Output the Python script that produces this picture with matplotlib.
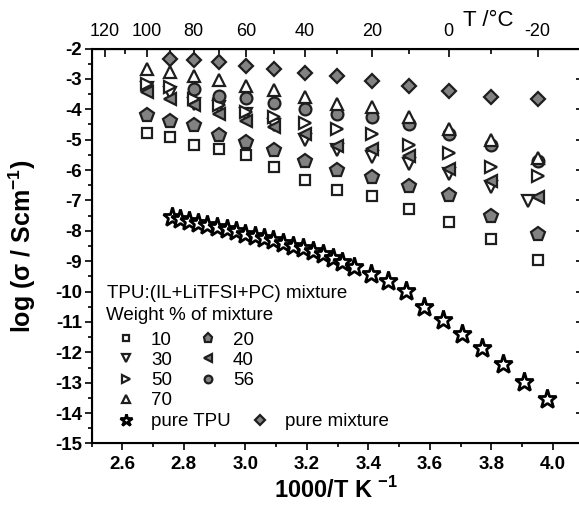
import numpy as np
import matplotlib.pyplot as plt
from matplotlib.ticker import MultipleLocator, FixedLocator

plt.rcParams['font.family'] = ['Liberation Sans', 'DejaVu Sans']
plt.rcParams['mathtext.fontset'] = 'custom'
plt.rcParams['mathtext.rm'] = 'Liberation Sans'
plt.rcParams['mathtext.bf'] = 'Liberation Sans:bold'
plt.rcParams['axes.unicode_minus'] = False

# measuring temperatures (deg C), columns of the plot
temps = [100, 90, 80, 70, 60, 50, 40, 30, 20, 10, 0, -10, -20]
temps_30 = [100, 90, 80, 70, 60, 50, 40, 30, 20, 10, 0, -10, -18]
temps_56 = [80, 70, 60, 50, 40, 30, 20, 10, 0, -10, -20]
temps_mix = [90, 80, 70, 60, 50, 40, 30, 20, 10, 0, -10, -20]

# log conductivity, weight % of mixture in TPU
w10 = [-4.77, -4.92, -5.16, -5.32, -5.52, -5.90, -6.32, -6.65, -6.87, -7.27, -7.71, -8.26, -8.97]
w20 = [-4.20, -4.37, -4.53, -4.84, -5.08, -5.35, -5.71, -5.99, -6.23, -6.54, -6.83, -7.52, -8.09]
w30 = [-3.30, -3.45, -3.81, -3.93, -4.15, -4.53, -5.00, -5.35, -5.57, -5.79, -6.12, -6.56, -7.02]
w40 = [-3.44, -3.65, -3.87, -4.15, -4.37, -4.59, -4.83, -5.22, -5.30, -5.55, -5.95, -6.36, -6.89]
w50 = [-3.16, -3.27, -3.65, -3.87, -4.09, -4.26, -4.46, -4.64, -4.83, -5.19, -5.44, -5.90, -6.21]
w56 = [-3.32, -3.55, -3.62, -3.80, -3.98, -4.17, -4.26, -4.50, -4.80, -5.16, -5.70]
w70 = [-2.67, -2.76, -2.91, -3.05, -3.22, -3.38, -3.60, -3.82, -3.93, -4.26, -4.64, -5.02, -5.59]
pure_mix = [-2.34, -2.39, -2.45, -2.56, -2.67, -2.81, -2.92, -3.07, -3.22, -3.40, -3.58, -3.65]

# pure TPU (1000/T, log sigma)
tpu_x = [2.761, 2.788, 2.818, 2.847, 2.876, 2.909, 2.940, 2.970, 2.999, 3.032,
         3.061, 3.091, 3.122, 3.154, 3.187, 3.219, 3.252, 3.284, 3.313, 3.353,
         3.408, 3.465, 3.523, 3.581, 3.642, 3.706, 3.771, 3.837, 3.907, 3.980]
tpu_y = [-7.55, -7.60, -7.68, -7.73, -7.80, -7.87, -7.95, -8.02, -8.09, -8.16,
         -8.24, -8.31, -8.40, -8.49, -8.58, -8.67, -8.77, -8.88, -9.02, -9.19,
         -9.41, -9.65, -9.99, -10.50, -10.92, -11.38, -11.85, -12.37, -12.97, -13.52]

top_ticks = [120, 100, 80, 60, 40, 20, 0, -20]


def inv_t(t):
    return 1000.0 / (np.asarray(t, dtype=float) + 273.15)


def to_c(x):
    return 1000.0 / np.asarray(x, dtype=float) - 273.15


grey = '#828282'
edge = '#1e1e1e'
mew = 1.6

fig = plt.figure(figsize=(5.79, 5.09), dpi=100)
ax = fig.add_axes([0.1582, 0.1287, 0.8497, 0.776])

h10, = ax.plot(inv_t(temps), w10, ls='none', marker='s', ms=7, mfc='white', mec=edge, mew=mew, label='10')
h20, = ax.plot(inv_t(temps), w20, ls='none', marker='p', ms=10, mfc=grey, mec=edge, mew=mew, label='20')
h30, = ax.plot(inv_t(temps_30), w30, ls='none', marker='v', ms=9, mfc='white', mec=edge, mew=mew, label='30')
h50, = ax.plot(inv_t(temps), w50, ls='none', marker='>', ms=9, mfc='white', mec=edge, mew=mew, label='50')
h40, = ax.plot(inv_t(temps), w40, ls='none', marker='<', ms=9, mfc=grey, mec=edge, mew=mew, label='40')
h56, = ax.plot(inv_t(temps_56), w56, ls='none', marker='o', ms=8.5, mfc=grey, mec=edge, mew=mew, label='56')
h70, = ax.plot(inv_t(temps), w70, ls='none', marker='^', ms=9, mfc='white', mec=edge, mew=mew, label='70')
hmix, = ax.plot(inv_t(temps_mix), pure_mix, ls='none', marker='D', ms=7.5, mfc=grey, mec=edge, mew=mew, label='pure mixture')
htpu, = ax.plot(tpu_x, tpu_y, ls='none', marker='*', ms=14, mfc='white', mec='black', mew=2.0, label='pure TPU')

ax.set_xlim(2.5, 4.1)
ax.set_ylim(-15, -2)
ax.xaxis.set_major_locator(MultipleLocator(0.2))
ax.xaxis.set_minor_locator(MultipleLocator(0.1))
ax.yaxis.set_major_locator(MultipleLocator(1))
ax.yaxis.set_minor_locator(MultipleLocator(0.5))
ax.xaxis.set_major_formatter(lambda v, p: f'{v:.1f}')
ax.yaxis.set_major_formatter(lambda v, p: f'{v:.0f}')

for s in ax.spines.values():
    s.set_linewidth(1.5)
ax.tick_params(which='both', top=False, right=True, width=1.2)
ax.tick_params(axis='x', which='major', direction='out', length=5, pad=4, labelsize=13.5)
ax.tick_params(axis='x', which='minor', direction='out', length=3)
ax.tick_params(axis='y', which='major', direction='out', length=5, pad=2, labelsize=13.5)
ax.tick_params(axis='y', which='minor', direction='out', length=3)
for lab in ax.get_xticklabels() + ax.get_yticklabels():
    lab.set_fontweight('bold')

# right-hand ticks point inwards
ax2 = ax.twinx()
ax2.set_ylim(ax.get_ylim())
ax2.yaxis.set_major_locator(MultipleLocator(1))
ax2.yaxis.set_minor_locator(MultipleLocator(0.5))
ax2.tick_params(which='both', direction='in', labelright=False, width=1.2)
ax2.tick_params(which='major', length=6)
ax2.tick_params(which='minor', length=3.5)

# temperature axis on top
sec = ax.secondary_xaxis('top', functions=(to_c, inv_t))
sec.xaxis.set_major_locator(FixedLocator(top_ticks))
sec.xaxis.set_minor_locator(FixedLocator(list(range(130, -30, -10))))
sec.tick_params(which='both', direction='in', width=1.2)
sec.tick_params(which='major', length=6, pad=6, labelsize=13)
sec.tick_params(which='minor', length=3.5)
fig.text(0.80, 0.960, 'T /°C', fontsize=16, ha='left', va='center')

ax.set_xlabel(r'1000/T K $^{\mathbf{-1}}$', fontsize=17, fontweight='bold')
ax.xaxis.set_label_coords(0.497, -0.085)
ax.set_ylabel(r'log (σ / Scm$^{\mathbf{-1}}$)', fontsize=18, fontweight='bold')
ax.yaxis.set_label_coords(-0.108, 0.50)

ax.text(0.031, 0.380, 'TPU:(IL+LiTFSI+PC) mixture', transform=ax.transAxes,
        fontsize=13.5, ha='left', va='center')
ax.text(0.030, 0.325, 'Weight % of mixture', transform=ax.transAxes,
        fontsize=13.5, ha='left', va='center')

leg1 = ax.legend(handles=[h10, h30, h50, h70, h20, h40, h56], ncol=2, loc='upper left',
                 bbox_to_anchor=(0.050, 0.283), frameon=False, fontsize=13.5,
                 markerscale=0.65, borderpad=0, borderaxespad=0, labelspacing=0.16,
                 handlelength=1.0, handletextpad=0.85, columnspacing=1.4)
ax.add_artist(leg1)
ax.legend(handles=[htpu, hmix], ncol=2, loc='upper left',
          bbox_to_anchor=(0.050, 0.077), frameon=False, fontsize=13.5,
          markerscale=0.65, borderpad=0, borderaxespad=0,
          handlelength=1.0, handletextpad=0.85, columnspacing=1.05)

fig.savefig('out.png', dpi=100)
